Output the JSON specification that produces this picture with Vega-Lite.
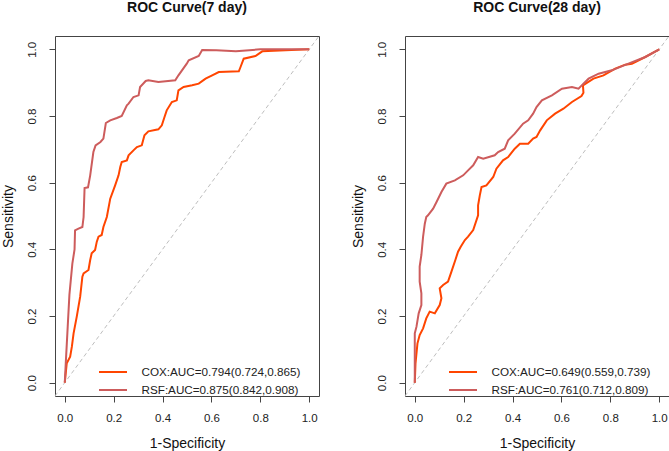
{
  "$schema": "https://vega.github.io/schema/vega-lite/v6.json",
  "background": "white",
  "padding": {"left": 0, "top": 0, "right": 0, "bottom": 0},
  "config": {
    "font": "Liberation Sans",
    "view": {"stroke": "#444444", "strokeWidth": 1},
    "axis": {"domain": false, "grid": false, "ticks": true, "tickSize": 6, "tickColor": "#444444", "labelFont": "Liberation Sans", "labelFontSize": 11.5, "labelColor": "#222222", "titleFont": "Liberation Sans", "titleFontSize": 14, "titleFontWeight": "normal", "titleColor": "#111111"},
    "title": {"font": "Liberation Sans", "fontSize": 14, "fontWeight": "bold", "anchor": "middle", "baseline": "alphabetic", "offset": 21, "color": "#111111"}
  },
  "datasets": {
    "roc": [
      {"panel": "7", "model": "COX", "i": 0, "fpr": 0, "tpr": 0},
      {"panel": "7", "model": "COX", "i": 1, "fpr": 0.008, "tpr": 0.058},
      {"panel": "7", "model": "COX", "i": 2, "fpr": 0.022, "tpr": 0.078},
      {"panel": "7", "model": "COX", "i": 3, "fpr": 0.029, "tpr": 0.108},
      {"panel": "7", "model": "COX", "i": 4, "fpr": 0.036, "tpr": 0.148},
      {"panel": "7", "model": "COX", "i": 5, "fpr": 0.049, "tpr": 0.198},
      {"panel": "7", "model": "COX", "i": 6, "fpr": 0.056, "tpr": 0.228},
      {"panel": "7", "model": "COX", "i": 7, "fpr": 0.063, "tpr": 0.258},
      {"panel": "7", "model": "COX", "i": 8, "fpr": 0.072, "tpr": 0.318},
      {"panel": "7", "model": "COX", "i": 9, "fpr": 0.077, "tpr": 0.328},
      {"panel": "7", "model": "COX", "i": 10, "fpr": 0.097, "tpr": 0.338},
      {"panel": "7", "model": "COX", "i": 11, "fpr": 0.104, "tpr": 0.368},
      {"panel": "7", "model": "COX", "i": 12, "fpr": 0.110, "tpr": 0.388},
      {"panel": "7", "model": "COX", "i": 13, "fpr": 0.124, "tpr": 0.398},
      {"panel": "7", "model": "COX", "i": 14, "fpr": 0.131, "tpr": 0.423},
      {"panel": "7", "model": "COX", "i": 15, "fpr": 0.138, "tpr": 0.438},
      {"panel": "7", "model": "COX", "i": 16, "fpr": 0.151, "tpr": 0.443},
      {"panel": "7", "model": "COX", "i": 17, "fpr": 0.158, "tpr": 0.467},
      {"panel": "7", "model": "COX", "i": 18, "fpr": 0.172, "tpr": 0.497},
      {"panel": "7", "model": "COX", "i": 19, "fpr": 0.186, "tpr": 0.552},
      {"panel": "7", "model": "COX", "i": 20, "fpr": 0.206, "tpr": 0.592},
      {"panel": "7", "model": "COX", "i": 21, "fpr": 0.220, "tpr": 0.622},
      {"panel": "7", "model": "COX", "i": 22, "fpr": 0.227, "tpr": 0.647},
      {"panel": "7", "model": "COX", "i": 23, "fpr": 0.233, "tpr": 0.662},
      {"panel": "7", "model": "COX", "i": 24, "fpr": 0.254, "tpr": 0.667},
      {"panel": "7", "model": "COX", "i": 25, "fpr": 0.261, "tpr": 0.682},
      {"panel": "7", "model": "COX", "i": 26, "fpr": 0.281, "tpr": 0.697},
      {"panel": "7", "model": "COX", "i": 27, "fpr": 0.295, "tpr": 0.707},
      {"panel": "7", "model": "COX", "i": 28, "fpr": 0.315, "tpr": 0.712},
      {"panel": "7", "model": "COX", "i": 29, "fpr": 0.326, "tpr": 0.742},
      {"panel": "7", "model": "COX", "i": 30, "fpr": 0.342, "tpr": 0.754},
      {"panel": "7", "model": "COX", "i": 31, "fpr": 0.383, "tpr": 0.760},
      {"panel": "7", "model": "COX", "i": 32, "fpr": 0.397, "tpr": 0.772},
      {"panel": "7", "model": "COX", "i": 33, "fpr": 0.408, "tpr": 0.797},
      {"panel": "7", "model": "COX", "i": 34, "fpr": 0.417, "tpr": 0.817},
      {"panel": "7", "model": "COX", "i": 35, "fpr": 0.438, "tpr": 0.842},
      {"panel": "7", "model": "COX", "i": 36, "fpr": 0.458, "tpr": 0.847},
      {"panel": "7", "model": "COX", "i": 37, "fpr": 0.465, "tpr": 0.877},
      {"panel": "7", "model": "COX", "i": 38, "fpr": 0.486, "tpr": 0.887},
      {"panel": "7", "model": "COX", "i": 39, "fpr": 0.521, "tpr": 0.892},
      {"panel": "7", "model": "COX", "i": 40, "fpr": 0.548, "tpr": 0.897},
      {"panel": "7", "model": "COX", "i": 41, "fpr": 0.576, "tpr": 0.912},
      {"panel": "7", "model": "COX", "i": 42, "fpr": 0.603, "tpr": 0.922},
      {"panel": "7", "model": "COX", "i": 43, "fpr": 0.630, "tpr": 0.932},
      {"panel": "7", "model": "COX", "i": 44, "fpr": 0.712, "tpr": 0.934},
      {"panel": "7", "model": "COX", "i": 45, "fpr": 0.719, "tpr": 0.947},
      {"panel": "7", "model": "COX", "i": 46, "fpr": 0.732, "tpr": 0.972},
      {"panel": "7", "model": "COX", "i": 47, "fpr": 0.780, "tpr": 0.980},
      {"panel": "7", "model": "COX", "i": 48, "fpr": 0.808, "tpr": 0.994},
      {"panel": "7", "model": "COX", "i": 49, "fpr": 0.903, "tpr": 0.997},
      {"panel": "7", "model": "COX", "i": 50, "fpr": 1, "tpr": 1},
      {"panel": "7", "model": "RSF", "i": 0, "fpr": 0, "tpr": 0},
      {"panel": "7", "model": "RSF", "i": 1, "fpr": 0.004, "tpr": 0.058},
      {"panel": "7", "model": "RSF", "i": 2, "fpr": 0.012, "tpr": 0.168},
      {"panel": "7", "model": "RSF", "i": 3, "fpr": 0.019, "tpr": 0.264},
      {"panel": "7", "model": "RSF", "i": 4, "fpr": 0.031, "tpr": 0.357},
      {"panel": "7", "model": "RSF", "i": 5, "fpr": 0.040, "tpr": 0.400},
      {"panel": "7", "model": "RSF", "i": 6, "fpr": 0.042, "tpr": 0.457},
      {"panel": "7", "model": "RSF", "i": 7, "fpr": 0.056, "tpr": 0.462},
      {"panel": "7", "model": "RSF", "i": 8, "fpr": 0.072, "tpr": 0.467},
      {"panel": "7", "model": "RSF", "i": 9, "fpr": 0.077, "tpr": 0.497},
      {"panel": "7", "model": "RSF", "i": 10, "fpr": 0.081, "tpr": 0.584},
      {"panel": "7", "model": "RSF", "i": 11, "fpr": 0.095, "tpr": 0.586},
      {"panel": "7", "model": "RSF", "i": 12, "fpr": 0.104, "tpr": 0.622},
      {"panel": "7", "model": "RSF", "i": 13, "fpr": 0.117, "tpr": 0.692},
      {"panel": "7", "model": "RSF", "i": 14, "fpr": 0.126, "tpr": 0.712},
      {"panel": "7", "model": "RSF", "i": 15, "fpr": 0.146, "tpr": 0.722},
      {"panel": "7", "model": "RSF", "i": 16, "fpr": 0.158, "tpr": 0.732},
      {"panel": "7", "model": "RSF", "i": 17, "fpr": 0.168, "tpr": 0.779},
      {"panel": "7", "model": "RSF", "i": 18, "fpr": 0.186, "tpr": 0.787},
      {"panel": "7", "model": "RSF", "i": 19, "fpr": 0.213, "tpr": 0.794},
      {"panel": "7", "model": "RSF", "i": 20, "fpr": 0.233, "tpr": 0.800},
      {"panel": "7", "model": "RSF", "i": 21, "fpr": 0.254, "tpr": 0.832},
      {"panel": "7", "model": "RSF", "i": 22, "fpr": 0.261, "tpr": 0.837},
      {"panel": "7", "model": "RSF", "i": 23, "fpr": 0.281, "tpr": 0.857},
      {"panel": "7", "model": "RSF", "i": 24, "fpr": 0.302, "tpr": 0.862},
      {"panel": "7", "model": "RSF", "i": 25, "fpr": 0.308, "tpr": 0.887},
      {"panel": "7", "model": "RSF", "i": 26, "fpr": 0.331, "tpr": 0.905},
      {"panel": "7", "model": "RSF", "i": 27, "fpr": 0.342, "tpr": 0.907},
      {"panel": "7", "model": "RSF", "i": 28, "fpr": 0.383, "tpr": 0.902},
      {"panel": "7", "model": "RSF", "i": 29, "fpr": 0.452, "tpr": 0.907},
      {"panel": "7", "model": "RSF", "i": 30, "fpr": 0.465, "tpr": 0.922},
      {"panel": "7", "model": "RSF", "i": 31, "fpr": 0.499, "tpr": 0.957},
      {"panel": "7", "model": "RSF", "i": 32, "fpr": 0.507, "tpr": 0.967},
      {"panel": "7", "model": "RSF", "i": 33, "fpr": 0.548, "tpr": 0.980},
      {"panel": "7", "model": "RSF", "i": 34, "fpr": 0.562, "tpr": 0.998},
      {"panel": "7", "model": "RSF", "i": 35, "fpr": 0.620, "tpr": 0.997},
      {"panel": "7", "model": "RSF", "i": 36, "fpr": 0.700, "tpr": 0.994},
      {"panel": "7", "model": "RSF", "i": 37, "fpr": 0.800, "tpr": 1.0},
      {"panel": "7", "model": "RSF", "i": 38, "fpr": 1, "tpr": 1},
      {"panel": "28", "model": "COX", "i": 0, "fpr": 0, "tpr": 0},
      {"panel": "28", "model": "COX", "i": 1, "fpr": 0.003, "tpr": 0.058},
      {"panel": "28", "model": "COX", "i": 2, "fpr": 0.011, "tpr": 0.118},
      {"panel": "28", "model": "COX", "i": 3, "fpr": 0.020, "tpr": 0.143},
      {"panel": "28", "model": "COX", "i": 4, "fpr": 0.034, "tpr": 0.163},
      {"panel": "28", "model": "COX", "i": 5, "fpr": 0.047, "tpr": 0.193},
      {"panel": "28", "model": "COX", "i": 6, "fpr": 0.061, "tpr": 0.213},
      {"panel": "28", "model": "COX", "i": 7, "fpr": 0.082, "tpr": 0.208},
      {"panel": "28", "model": "COX", "i": 8, "fpr": 0.102, "tpr": 0.233},
      {"panel": "28", "model": "COX", "i": 9, "fpr": 0.109, "tpr": 0.253},
      {"panel": "28", "model": "COX", "i": 10, "fpr": 0.102, "tpr": 0.283},
      {"panel": "28", "model": "COX", "i": 11, "fpr": 0.116, "tpr": 0.293},
      {"panel": "28", "model": "COX", "i": 12, "fpr": 0.136, "tpr": 0.303},
      {"panel": "28", "model": "COX", "i": 13, "fpr": 0.150, "tpr": 0.333},
      {"panel": "28", "model": "COX", "i": 14, "fpr": 0.166, "tpr": 0.368},
      {"panel": "28", "model": "COX", "i": 15, "fpr": 0.177, "tpr": 0.393},
      {"panel": "28", "model": "COX", "i": 16, "fpr": 0.188, "tpr": 0.408},
      {"panel": "28", "model": "COX", "i": 17, "fpr": 0.205, "tpr": 0.428},
      {"panel": "28", "model": "COX", "i": 18, "fpr": 0.218, "tpr": 0.438},
      {"panel": "28", "model": "COX", "i": 19, "fpr": 0.239, "tpr": 0.458},
      {"panel": "28", "model": "COX", "i": 20, "fpr": 0.259, "tpr": 0.502},
      {"panel": "28", "model": "COX", "i": 21, "fpr": 0.259, "tpr": 0.532},
      {"panel": "28", "model": "COX", "i": 22, "fpr": 0.266, "tpr": 0.562},
      {"panel": "28", "model": "COX", "i": 23, "fpr": 0.273, "tpr": 0.587},
      {"panel": "28", "model": "COX", "i": 24, "fpr": 0.293, "tpr": 0.592},
      {"panel": "28", "model": "COX", "i": 25, "fpr": 0.321, "tpr": 0.617},
      {"panel": "28", "model": "COX", "i": 26, "fpr": 0.334, "tpr": 0.642},
      {"panel": "28", "model": "COX", "i": 27, "fpr": 0.361, "tpr": 0.667},
      {"panel": "28", "model": "COX", "i": 28, "fpr": 0.382, "tpr": 0.677},
      {"panel": "28", "model": "COX", "i": 29, "fpr": 0.409, "tpr": 0.702},
      {"panel": "28", "model": "COX", "i": 30, "fpr": 0.430, "tpr": 0.717},
      {"panel": "28", "model": "COX", "i": 31, "fpr": 0.464, "tpr": 0.717},
      {"panel": "28", "model": "COX", "i": 32, "fpr": 0.484, "tpr": 0.732},
      {"panel": "28", "model": "COX", "i": 33, "fpr": 0.498, "tpr": 0.737},
      {"panel": "28", "model": "COX", "i": 34, "fpr": 0.513, "tpr": 0.757},
      {"panel": "28", "model": "COX", "i": 35, "fpr": 0.540, "tpr": 0.787},
      {"panel": "28", "model": "COX", "i": 36, "fpr": 0.574, "tpr": 0.807},
      {"panel": "28", "model": "COX", "i": 37, "fpr": 0.608, "tpr": 0.822},
      {"panel": "28", "model": "COX", "i": 38, "fpr": 0.643, "tpr": 0.842},
      {"panel": "28", "model": "COX", "i": 39, "fpr": 0.682, "tpr": 0.860},
      {"panel": "28", "model": "COX", "i": 40, "fpr": 0.690, "tpr": 0.870},
      {"panel": "28", "model": "COX", "i": 41, "fpr": 0.688, "tpr": 0.892},
      {"panel": "28", "model": "COX", "i": 42, "fpr": 0.731, "tpr": 0.912},
      {"panel": "28", "model": "COX", "i": 43, "fpr": 0.772, "tpr": 0.922},
      {"panel": "28", "model": "COX", "i": 44, "fpr": 0.820, "tpr": 0.942},
      {"panel": "28", "model": "COX", "i": 45, "fpr": 0.861, "tpr": 0.954},
      {"panel": "28", "model": "COX", "i": 46, "fpr": 0.888, "tpr": 0.957},
      {"panel": "28", "model": "COX", "i": 47, "fpr": 0.943, "tpr": 0.977},
      {"panel": "28", "model": "COX", "i": 48, "fpr": 1, "tpr": 1},
      {"panel": "28", "model": "RSF", "i": 0, "fpr": 0, "tpr": 0},
      {"panel": "28", "model": "RSF", "i": 1, "fpr": 0, "tpr": 0.148},
      {"panel": "28", "model": "RSF", "i": 2, "fpr": 0.007, "tpr": 0.168},
      {"panel": "28", "model": "RSF", "i": 3, "fpr": 0.016, "tpr": 0.208},
      {"panel": "28", "model": "RSF", "i": 4, "fpr": 0.027, "tpr": 0.233},
      {"panel": "28", "model": "RSF", "i": 5, "fpr": 0.027, "tpr": 0.268},
      {"panel": "28", "model": "RSF", "i": 6, "fpr": 0.020, "tpr": 0.303},
      {"panel": "28", "model": "RSF", "i": 7, "fpr": 0.020, "tpr": 0.348},
      {"panel": "28", "model": "RSF", "i": 8, "fpr": 0.027, "tpr": 0.383},
      {"panel": "28", "model": "RSF", "i": 9, "fpr": 0.034, "tpr": 0.438},
      {"panel": "28", "model": "RSF", "i": 10, "fpr": 0.041, "tpr": 0.477},
      {"panel": "28", "model": "RSF", "i": 11, "fpr": 0.047, "tpr": 0.497},
      {"panel": "28", "model": "RSF", "i": 12, "fpr": 0.054, "tpr": 0.502},
      {"panel": "28", "model": "RSF", "i": 13, "fpr": 0.075, "tpr": 0.522},
      {"panel": "28", "model": "RSF", "i": 14, "fpr": 0.089, "tpr": 0.542},
      {"panel": "28", "model": "RSF", "i": 15, "fpr": 0.109, "tpr": 0.572},
      {"panel": "28", "model": "RSF", "i": 16, "fpr": 0.129, "tpr": 0.597},
      {"panel": "28", "model": "RSF", "i": 17, "fpr": 0.164, "tpr": 0.607},
      {"panel": "28", "model": "RSF", "i": 18, "fpr": 0.198, "tpr": 0.622},
      {"panel": "28", "model": "RSF", "i": 19, "fpr": 0.218, "tpr": 0.637},
      {"panel": "28", "model": "RSF", "i": 20, "fpr": 0.239, "tpr": 0.652},
      {"panel": "28", "model": "RSF", "i": 21, "fpr": 0.259, "tpr": 0.677},
      {"panel": "28", "model": "RSF", "i": 22, "fpr": 0.280, "tpr": 0.672},
      {"panel": "28", "model": "RSF", "i": 23, "fpr": 0.327, "tpr": 0.682},
      {"panel": "28", "model": "RSF", "i": 24, "fpr": 0.341, "tpr": 0.692},
      {"panel": "28", "model": "RSF", "i": 25, "fpr": 0.368, "tpr": 0.702},
      {"panel": "28", "model": "RSF", "i": 26, "fpr": 0.382, "tpr": 0.727},
      {"panel": "28", "model": "RSF", "i": 27, "fpr": 0.409, "tpr": 0.747},
      {"panel": "28", "model": "RSF", "i": 28, "fpr": 0.443, "tpr": 0.777},
      {"panel": "28", "model": "RSF", "i": 29, "fpr": 0.464, "tpr": 0.787},
      {"panel": "28", "model": "RSF", "i": 30, "fpr": 0.484, "tpr": 0.807},
      {"panel": "28", "model": "RSF", "i": 31, "fpr": 0.498, "tpr": 0.827},
      {"panel": "28", "model": "RSF", "i": 32, "fpr": 0.520, "tpr": 0.847},
      {"panel": "28", "model": "RSF", "i": 33, "fpr": 0.561, "tpr": 0.862},
      {"panel": "28", "model": "RSF", "i": 34, "fpr": 0.602, "tpr": 0.882},
      {"panel": "28", "model": "RSF", "i": 35, "fpr": 0.643, "tpr": 0.887},
      {"panel": "28", "model": "RSF", "i": 36, "fpr": 0.670, "tpr": 0.882},
      {"panel": "28", "model": "RSF", "i": 37, "fpr": 0.690, "tpr": 0.897},
      {"panel": "28", "model": "RSF", "i": 38, "fpr": 0.711, "tpr": 0.912},
      {"panel": "28", "model": "RSF", "i": 39, "fpr": 0.752, "tpr": 0.927},
      {"panel": "28", "model": "RSF", "i": 40, "fpr": 0.806, "tpr": 0.937},
      {"panel": "28", "model": "RSF", "i": 41, "fpr": 0.874, "tpr": 0.957},
      {"panel": "28", "model": "RSF", "i": 42, "fpr": 0.943, "tpr": 0.977},
      {"panel": "28", "model": "RSF", "i": 43, "fpr": 1, "tpr": 1}
    ]
  },
  "hconcat": [
    {
      "width": 264,
      "height": 360,
      "title": {"text": "ROC Curve(7 day)"},
      "layer": [
        {
          "data": {"values": [{}]},
          "mark": {"type": "rule", "stroke": "#BEBEBE", "strokeWidth": 1, "strokeDash": [4, 3]},
          "encoding": {
            "x": {"datum": -0.04, "type": "quantitative"},
            "y": {"datum": -0.04, "type": "quantitative"},
            "x2": {"datum": 1.04},
            "y2": {"datum": 1.04}
          }
        },
        {
          "data": {"name": "roc"},
          "transform": [{"filter": "datum.panel == '7'"}],
          "mark": {"type": "line", "strokeWidth": 2},
          "encoding": {
            "x": {"field": "fpr", "type": "quantitative", "scale": {"domain": [-0.04, 1.04], "nice": false, "zero": false},
                  "axis": {"title": "1-Specificity", "values": [0, 0.2, 0.4, 0.6, 0.8, 1.0], "format": ".1f", "labelPadding": 10, "titleBaseline": "alphabetic", "titleY": 51.5}},
            "y": {"field": "tpr", "type": "quantitative", "scale": {"domain": [-0.04, 1.04], "nice": false, "zero": false},
                  "axis": {"title": "Sensitivity", "values": [0, 0.2, 0.4, 0.6, 0.8, 1.0], "format": ".1f", "labelAngle": -90, "labelAlign": "center", "labelBaseline": "alphabetic", "labelPadding": 14, "titleBaseline": "alphabetic", "titleAngle": -90, "titleX": -43}},
            "color": {"field": "model", "type": "nominal",
                      "scale": {"domain": ["COX", "RSF"], "range": ["#FF4500", "#CD5C5C"]},
                      "legend": {"orient": "none", "legendX": 47, "legendY": 325, "title": null, "symbolType": "M-1.4,0H1.4", "symbolSize": 400, "symbolStrokeWidth": 2, "labelOffset": 17.5, "labelFontSize": 11.7, "labelColor": "#222222", "labelLimit": 400, "rowPadding": 0, "padding": 0,
                                 "labelExpr": "datum.label == 'COX' ? 'COX:AUC=0.794(0.724,0.865)' : 'RSF:AUC=0.875(0.842,0.908)'"}},
            "order": {"field": "i", "type": "quantitative"}
          }
        }
      ]
    },
    {
      "width": 264,
      "height": 360,
      "title": {"text": "ROC Curve(28 day)"},
      "layer": [
        {
          "data": {"values": [{}]},
          "mark": {"type": "rule", "stroke": "#BEBEBE", "strokeWidth": 1, "strokeDash": [4, 3]},
          "encoding": {
            "x": {"datum": -0.04, "type": "quantitative"},
            "y": {"datum": -0.04, "type": "quantitative"},
            "x2": {"datum": 1.04},
            "y2": {"datum": 1.04}
          }
        },
        {
          "data": {"name": "roc"},
          "transform": [{"filter": "datum.panel == '28'"}],
          "mark": {"type": "line", "strokeWidth": 2},
          "encoding": {
            "x": {"field": "fpr", "type": "quantitative", "scale": {"domain": [-0.04, 1.04], "nice": false, "zero": false},
                  "axis": {"title": "1-Specificity", "values": [0, 0.2, 0.4, 0.6, 0.8, 1.0], "format": ".1f", "labelPadding": 10, "titleBaseline": "alphabetic", "titleY": 51.5}},
            "y": {"field": "tpr", "type": "quantitative", "scale": {"domain": [-0.04, 1.04], "nice": false, "zero": false},
                  "axis": {"title": "Sensitivity", "values": [0, 0.2, 0.4, 0.6, 0.8, 1.0], "format": ".1f", "labelAngle": -90, "labelAlign": "center", "labelBaseline": "alphabetic", "labelPadding": 14, "titleBaseline": "alphabetic", "titleAngle": -90, "titleX": -43}},
            "color": {"field": "model", "type": "nominal",
                      "scale": {"domain": ["COX", "RSF"], "range": ["#FF4500", "#CD5C5C"]},
                      "legend": {"orient": "none", "legendX": 47, "legendY": 325, "title": null, "symbolType": "M-1.4,0H1.4", "symbolSize": 400, "symbolStrokeWidth": 2, "labelOffset": 17.5, "labelFontSize": 11.7, "labelColor": "#222222", "labelLimit": 400, "rowPadding": 0, "padding": 0,
                                 "labelExpr": "datum.label == 'COX' ? 'COX:AUC=0.649(0.559,0.739)' : 'RSF:AUC=0.761(0.712,0.809)'"}},
            "order": {"field": "i", "type": "quantitative"}
          }
        }
      ]
    }
  ],
  "spacing": 86,
  "bounds": "flush",
  "resolve": {"scale": {"color": "independent"}, "legend": {"color": "independent"}}
}
